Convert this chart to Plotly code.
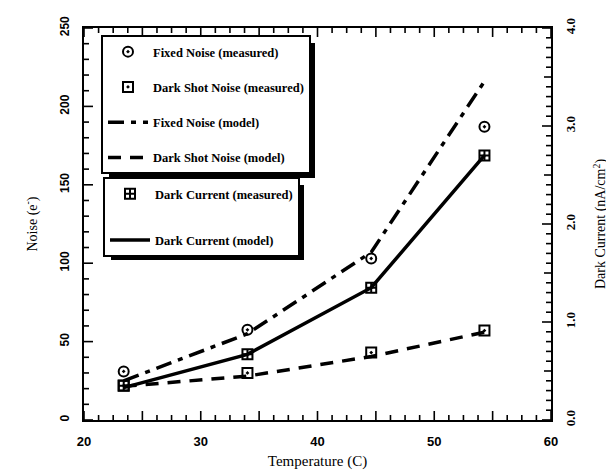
import plotly.graph_objects as go

# ---- data ----
temp = [23.4, 34.0, 44.6, 54.3]
fixed_noise_measured = [31.0, 57.5, 103.0, 187.0]
shot_noise_measured = [22.0, 30.0, 43.0, 57.0]
fixed_noise_model = [25.0, 55.0, 107.0, 216.0]
shot_noise_model = [21.5, 28.0, 40.5, 56.0]
dark_current_measured = [0.35, 0.67, 1.35, 2.70]
dark_current_model = [0.33, 0.67, 1.35, 2.70]

SERIF = "Liberation Serif"
SANS = "Liberation Sans"

W, H = 614, 476
ML, MR, MT, MB = 76, 71, 20, 64
PW, PH = W - ML - MR, H - MT - MB
X_RANGE, Y_RANGE, Y2_RANGE = [20, 60], [0, 250], [0, 4]


def px_x(px):
    return (px - ML) / PW


def px_y(py):
    return (H - MB - py) / PH


fig = go.Figure()

fig.add_trace(go.Scatter(
    x=temp, y=fixed_noise_measured, mode="markers", name="Fixed Noise (measured)",
    marker=dict(symbol="circle-open-dot", size=10, color="black", line=dict(width=2)),
    legend="legend", legendgroup="a"))
fig.add_trace(go.Scatter(
    x=temp, y=shot_noise_measured, mode="markers", name="Dark Shot Noise (measured)",
    marker=dict(symbol="square-open-dot", size=10, color="black", line=dict(width=2)),
    legend="legend", legendgroup="b"))
fig.add_trace(go.Scatter(
    x=temp, y=fixed_noise_model, mode="lines", name="Fixed Noise (model)",
    line=dict(color="black", width=3.5, dash="16px,7px,5px,7px"),
    legend="legend", legendgroup="c"))
fig.add_trace(go.Scatter(
    x=temp, y=shot_noise_model, mode="lines", name="Dark Shot Noise (model)",
    line=dict(color="black", width=3.5, dash="13px,9px"),
    legend="legend", legendgroup="d"))
fig.add_trace(go.Scatter(
    x=temp, y=dark_current_measured, mode="markers", name="Dark Current (measured)",
    marker=dict(symbol="square-cross-open", size=10, color="black", line=dict(width=2)),
    yaxis="y2", legend="legend2", legendgroup="e"))
fig.add_trace(go.Scatter(
    x=temp, y=dark_current_model, mode="lines", name="Dark Current (model)",
    line=dict(color="black", width=3.5),
    yaxis="y2", legend="legend2", legendgroup="f"))

# ---- inside tick marks as line traces (axis decoration, built from the axis ranges) ----
xs_per_px = (X_RANGE[1] - X_RANGE[0]) / PW
ys_per_px = (Y_RANGE[1] - Y_RANGE[0]) / PH
y2s_per_px = (Y2_RANGE[1] - Y2_RANGE[0]) / PH

tx, ty = [], []
for i in range(33):  # x ticks every 1.25, longer every 5, bottom + top
    v = X_RANGE[0] + 1.25 * i
    ln = (9 if i % 4 == 0 else 5) * ys_per_px
    tx += [v, v, None, v, v, None]
    ty += [Y_RANGE[0], Y_RANGE[0] + ln, None, Y_RANGE[1], Y_RANGE[1] - ln, None]
for i in range(26):  # left y ticks every 10, longer every 50
    v = 10 * i
    ln = (9 if i % 5 == 0 else 5) * xs_per_px
    tx += [X_RANGE[0], X_RANGE[0] + ln, None]
    ty += [v, v, None]
fig.add_trace(go.Scatter(x=tx, y=ty, mode="lines", line=dict(color="black", width=1.6),
                         showlegend=False, hoverinfo="skip", cliponaxis=False))

t2x, t2y = [], []
for i in range(41):  # right y ticks every 0.1, longer every 1.0
    v = 0.1 * i
    ln = (9 if i % 10 == 0 else (7 if i % 5 == 0 else 5)) * xs_per_px
    t2x += [X_RANGE[1], X_RANGE[1] - ln, None]
    t2y += [v, v, None]
fig.add_trace(go.Scatter(x=t2x, y=t2y, mode="lines", line=dict(color="black", width=1.6),
                         yaxis="y2", showlegend=False, hoverinfo="skip", cliponaxis=False))

legend_font = dict(family=SERIF, size=12.5, color="black", weight="bold")

# legend anchors (top-left corners, in pixels) and approximate box sizes
L1X, L1Y, L1W, L1H = 93, 27, 211, 140
L2X, L2Y, L2W, L2H = 95, 169, 198, 80

shapes = []
for (lx, ly, lw, lh) in [(L1X, L1Y, L1W, L1H), (L2X, L2Y, L2W, L2H)]:
    shapes.append(dict(type="rect", xref="paper", yref="paper",
                       x0=px_x(lx + 8), x1=px_x(lx + lw + 3),
                       y0=px_y(ly + 8), y1=px_y(ly + lh + 3),
                       fillcolor="black", line=dict(width=0), layer="above"))

fig.update_layout(
    width=W, height=H,
    margin=dict(l=ML, r=MR, t=MT, b=MB, autoexpand=False),
    paper_bgcolor="white", plot_bgcolor="white",
    showlegend=True,
    shapes=shapes,
    legend=dict(x=px_x(L1X), y=px_y(L1Y), xanchor="left", yanchor="top",
                bgcolor="white", bordercolor="black", borderwidth=2,
                font=legend_font, tracegroupgap=16, itemwidth=40),
    legend2=dict(x=px_x(L2X), y=px_y(L2Y), xanchor="left", yanchor="top",
                 bgcolor="white", bordercolor="black", borderwidth=2,
                 font=legend_font, tracegroupgap=27, itemwidth=40),
    xaxis=dict(range=X_RANGE, tickmode="linear", tick0=20, dtick=10, automargin=False,
               showgrid=False, zeroline=False, showline=True, linecolor="black", linewidth=2,
               mirror=True, ticks="",
               tickfont=dict(family=SANS, size=13, color="black", weight="bold"),
               ticklabelstandoff=8,
               title=dict(text="Temperature (C)", font=dict(family=SERIF, size=15, color="black"),
                          standoff=8)),
    yaxis=dict(range=Y_RANGE, tickmode="linear", tick0=0, dtick=50, automargin=False,
               showgrid=False, zeroline=False, showline=True, linecolor="black", linewidth=2,
               mirror=True, ticks="",
               tickangle=-90,
               tickfont=dict(family=SANS, size=12, color="black", weight="bold"),
               ticklabelstandoff=8,
               title=dict(text="Noise (e<sup>-</sup>)", font=dict(family=SERIF, size=14, color="black"),
                          standoff=17)),
    yaxis2=dict(range=Y2_RANGE, overlaying="y", side="right", tickmode="linear", tick0=0, dtick=1,
                tickformat=".1f", automargin=False,
                showgrid=False, zeroline=False, showline=True, linecolor="black", linewidth=2,
                ticks="",
                tickangle=-90,
                tickfont=dict(family=SERIF, size=13, color="black", weight="bold"),
                ticklabelstandoff=6,
                title=dict(text="Dark Current (nA/cm<sup>2</sup>)",
                           font=dict(family=SERIF, size=14, color="black"), standoff=19)),
)

fig.write_html("out.html")
